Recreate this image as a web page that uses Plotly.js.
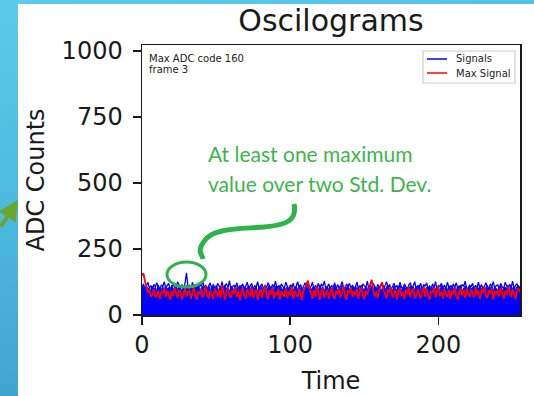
<!DOCTYPE html>
<html>
<head>
<meta charset="utf-8">
<script src="https://cdn.plot.ly/plotly-3.0.1.min.js"></script>
<style>
  html, body { margin: 0; padding: 0; width: 534px; height: 396px; overflow: hidden;
    background: linear-gradient(170deg, #5ccbe9 0%, #4bb6dc 50%, #3a9dc7 100%); }
  #panel { position: absolute; left: 18px; top: 4px; width: 516px; height: 392px; background: #ffffff; }
  #plot { position: absolute; left: 0; top: 0; width: 534px; height: 396px; }
</style>
</head>
<body>
<div id="panel"></div>
<div id="plot"></div>
<script>
// ---- data ----
const maxSignal = [
 150,158,128,104,84,96,70,78,98,66,74,92,60,88,80,102,
 68,94,76,58,90,72,104,82,64,96,86,60,78,100,70,88,
 94,62,82,106,72,58,90,80,98,66,84,110,74,62,92,78,
 60,100,84,70,96,64,112,76,58,88,102,72,66,94,80,106,
 68,90,56,84,104,74,62,98,80,70,108,64,86,96,58,82,
 100,66,88,112,72,60,94,78,104,62,86,74,98,58,90,80,
 70,102,64,88,76,108,60,92,82,68,100,74,56,96,104,118,
 130,100,76,62,94,70,108,84,58,90,102,66,80,96,62,88,
 106,74,60,92,80,100,66,86,112,70,58,94,82,104,68,90,
 76,98,62,88,106,72,60,92,78,100,114,133,96,70,88,64,
 94,112,124,92,72,62,98,84,106,66,80,94,58,90,102,72,
 84,60,96,78,108,68,88,100,64,74,98,80,62,92,106,70,
 100,76,58,90,84,104,66,94,110,72,86,62,98,80,70,96,
 60,92,78,106,70,58,88,102,74,94,64,100,82,68,96,86,
 66,104,78,92,60,98,84,110,72,64,94,80,102,58,90,76,
 96,70,104,84,62,92,76,108,86,68,98,80,60,94,100,88
];
const signalsHigh = [
 104,118,98,110,124,100,112,96,116,106,122,102,94,114,108,126,
 100,112,120,96,108,118,104,98,126,110,102,116,94,120,160,106,
 112,98,124,104,116,100,96,118,108,128,102,114,96,110,122,100,
 116,104,96,120,110,100,126,98,112,118,104,130,96,108,114,102,
 122,98,110,104,118,96,114,124,100,108,120,98,112,104,126,100,
 108,118,96,114,102,122,110,98,116,104,128,100,112,96,118,106,
 100,124,108,96,114,104,120,98,110,126,102,116,96,112,122,104,
 118,100,108,124,96,112,104,120,98,116,110,128,100,106,118,96,
 112,104,122,98,116,100,110,126,104,96,118,108,120,100,114,98,
 106,124,100,112,96,118,110,104,128,98,114,102,120,108,96,116,
 104,112,122,98,110,126,100,116,96,108,120,104,112,98,124,106,
 100,118,108,96,114,122,102,110,126,98,112,104,120,96,116,108,
 122,100,110,98,118,104,126,96,112,108,120,100,114,98,124,106,
 110,96,118,104,122,100,112,98,116,108,128,102,96,114,106,120,
 98,112,104,124,100,116,96,110,122,104,98,118,108,126,100,112,
 114,98,120,106,100,124,110,96,116,104,128,100,112,118,102,108
];
const signalsBody = [
 100,108,94,112,98,104,90,110,96,106,92,114,100,96,108,94,
 110,98,104,92,112,100,96,108,94,114,102,90,106,98,112,104,
 96,110,100,92,108,104,114,94,102,110,90,106,98,112,96,104,
 108,94,112,100,96,110,92,106,114,98,104,90,110,102,96,112,
 94,106,100,114,92,108,98,104,112,96,110,94,102,108,90,106,
 112,100,96,108,94,104,114,98,106,92,110,102,96,112,100,94,
 106,92,110,98,104,114,96,100,108,94,112,98,104,90,106,110,
 98,112,94,104,108,96,110,92,114,100,106,96,102,110,94,108,
 104,96,112,100,94,108,98,114,92,106,102,110,96,104,112,94,
 110,98,106,92,114,100,96,108,94,112,102,106,98,110,92,104,
 108,94,100,112,96,106,114,98,104,92,110,100,96,108,114,94,
 100,110,96,104,92,112,98,106,94,108,102,114,96,100,110,92,
 106,98,112,94,104,110,96,108,100,92,114,102,98,106,94,110,
 96,112,100,106,94,108,98,114,92,104,110,96,102,112,98,106,
 110,94,104,100,112,96,108,92,106,114,98,102,110,94,104,100,
 96,108,112,94,102,106,98,114,92,110,100,104,96,108,112,98
];
const xTicks = [0, 100, 200];
const yTicks = [0, 250, 500, 750, 1000];
const titleText = "Oscilograms";
const xLabel = "Time";
const yLabel = "ADC Counts";
const infoLines = ["Max ADC code 160", "frame 3"];
const noteLines = ["At least one maximum", "value over two Std. Dev."];
const legendNames = ["Signals", "Max Signal"];
const seriesColors = ["#0000ff", "#ff0000"];

const time = signalsBody.map((_, i) => i);

// ---- geometry helpers (pixel -> paper) ----
const L = 142, R = 520, T = 45, B = 315;
const px = x => (x - L) / (R - L);
const py = y => (B - y) / (B - T);

const dejavu = "DejaVu Sans, sans-serif";
const green = "#3cb54a";
const ink = "#1a1a1a";

const traces = [
  { x: time, y: signalsBody, type: "scatter", mode: "lines", fill: "tozeroy",
    fillcolor: seriesColors[0], line: { color: seriesColors[0], width: 1 }, name: legendNames[0], hoverinfo: "skip" },
  { x: time, y: signalsHigh, type: "scatter", mode: "lines",
    line: { color: seriesColors[0], width: 1.3 }, name: legendNames[0] },
  { x: time, y: maxSignal, type: "scatter", mode: "lines",
    line: { color: seriesColors[1], width: 1.8 }, name: legendNames[1] }
];

function pathFromPixels(cmds) {
  return cmds.map(c => {
    if (typeof c === "string") return c;
    return px(c[0]).toFixed(4) + "," + py(c[1]).toFixed(4);
  }).join(" ");
}
const curvePath = pathFromPixels([
  "M", [294, 204],
  "C", [297, 219], [289, 225], [264, 227],
  "S", [214, 228], [205, 240],
  "S", [202, 254], [203, 259]
]);

const legendRows = [59, 73];
const legendShapes = [
  { type: "rect", xref: "paper", yref: "paper", x0: px(423), x1: px(515), y0: py(83), y1: py(51),
    fillcolor: "#ffffff", line: { color: "#cccccc", width: 1.2 } }
].concat(legendRows.map((yy, i) => ({
  type: "line", xref: "paper", yref: "paper", x0: px(427), x1: px(447), y0: py(yy), y1: py(yy),
  line: { color: seriesColors[i], width: 1.5 }
})));
const legendTexts = legendRows.map((yy, i) => ({
  xref: "paper", yref: "paper", x: px(454), y: py(yy), xanchor: "left", yanchor: "middle",
  text: legendNames[i], showarrow: false, font: { family: dejavu, size: 10, color: "#222222" }
}));

const layout = {
  width: 534, height: 396,
  margin: { l: L, r: 534 - R, t: T, b: 396 - B },
  paper_bgcolor: "rgba(0,0,0,0)",
  plot_bgcolor: "#ffffff",
  font: { family: dejavu, color: ink },
  showlegend: false,
  title: { text: titleText, font: { family: dejavu, size: 30, color: ink },
           x: 0.5, xref: "paper", xanchor: "center", y: 1 - 20 / 396, yanchor: "middle" },
  xaxis: {
    range: [0, 255], tickvals: xTicks, ticktext: xTicks.map(String),
    ticks: "outside", ticklen: 8, tickwidth: 1.5, tickcolor: ink,
    showline: true, linecolor: ink, linewidth: 1.5, mirror: true,
    showgrid: false, zeroline: false,
    tickfont: { family: dejavu, size: 24, color: ink },
    title: { text: xLabel, font: { family: dejavu, size: 24, color: ink }, standoff: 14 }
  },
  yaxis: {
    range: [0, 1023], tickvals: yTicks, ticktext: yTicks.map(String),
    ticks: "outside", ticklen: 8, tickwidth: 1.5, tickcolor: ink,
    showline: true, linecolor: ink, linewidth: 1.5, mirror: true,
    showgrid: false, zeroline: false, ticklabelstandoff: 5,
    tickfont: { family: dejavu, size: 24, color: ink },
    title: { text: yLabel, font: { family: dejavu, size: 24, color: ink }, standoff: 10 }
  },
  annotations: [
    { xref: "paper", yref: "paper", x: px(147), y: py(59), xanchor: "left", yanchor: "middle",
      text: infoLines[0], showarrow: false, font: { family: dejavu, size: 10, color: "#222222" } },
    { xref: "paper", yref: "paper", x: px(147), y: py(69), xanchor: "left", yanchor: "middle",
      text: infoLines[1], showarrow: false, font: { family: dejavu, size: 10, color: "#222222" } },
    { xref: "paper", yref: "paper", x: px(206), y: py(153), xanchor: "left", yanchor: "middle",
      text: noteLines[0], showarrow: false, font: { family: "Lato, sans-serif", size: 21, color: green } },
    { xref: "paper", yref: "paper", x: px(206), y: py(183), xanchor: "left", yanchor: "middle",
      text: noteLines[1], showarrow: false, font: { family: "Lato, sans-serif", size: 21, color: green } },
    { xref: "paper", yref: "paper", x: px(18), y: py(200), text: "", showarrow: true,
      ax: -20, ay: 28, arrowhead: 2, arrowsize: 1, arrowwidth: 4, arrowcolor: "#6aa62a" }
  ].concat(legendTexts),
  shapes: [
    { type: "path", xref: "paper", yref: "paper", path: curvePath,
      line: { color: "#2db34b", width: 5 } },
    { type: "circle", xref: "paper", yref: "paper",
      x0: px(167), x1: px(206), y0: py(287), y1: py(262),
      line: { color: "#2db34b", width: 3 } }
  ].concat(legendShapes)
};

Plotly.newPlot("plot", traces, layout, { displayModeBar: false, staticPlot: true });
</script>
</body>
</html>
